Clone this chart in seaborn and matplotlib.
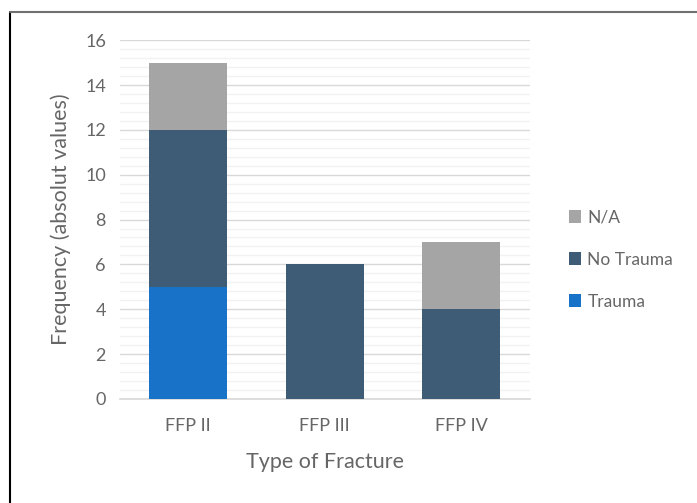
import matplotlib
matplotlib.use("Agg")
import matplotlib.pyplot as plt
import numpy as np
import seaborn as sns
from matplotlib.lines import Line2D
from matplotlib.patches import Patch
from matplotlib.ticker import MultipleLocator

categories = ["FFP II", "FFP III", "FFP IV"]
trauma = [5, 0, 0]
no_trauma = [7, 6, 4]
not_available = [3, 0, 3]

series_names = ["Trauma", "No Trauma", "N/A"]
colors = {"Trauma": "#1872C8", "No Trauma": "#3E5C76", "N/A": "#A5A5A5"}

sns.set_theme(style="white")
plt.rcParams["font.family"] = ["Lato", "DejaVu Sans"]
text_color = "#666666"

fig = plt.figure(figsize=(6.97, 5.03), dpi=100)
ax = fig.add_axes([0.172, 0.207, 0.588, 0.713])

bottom = np.zeros(len(categories))
for name, values in zip(series_names, [trauma, no_trauma, not_available]):
    sns.barplot(x=categories, y=values, bottom=bottom, color=colors[name],
                width=0.57, linewidth=0, saturation=1, ax=ax, zorder=3)
    bottom = bottom + np.array(values)

ax.set_ylim(0, 16)
ax.set_xlim(-0.5, 2.5)
ax.yaxis.set_major_locator(MultipleLocator(2))
ax.yaxis.set_minor_locator(MultipleLocator(0.4))
ax.grid(axis="y", which="major", color="#D9D9D9", linewidth=1.0, zorder=0)
ax.grid(axis="y", which="minor", color="#F2F2F2", linewidth=1.0, zorder=0)
ax.set_axisbelow(True)
for side in ["top", "right", "left"]:
    ax.spines[side].set_visible(False)
ax.spines["bottom"].set_color("#D9D9D9")
ax.tick_params(axis="both", which="both", length=0, colors=text_color)
ax.tick_params(axis="y", labelsize=13, pad=10)
ax.tick_params(axis="x", labelsize=13, pad=14)

ax.set_xlabel("Type of Fracture", fontsize=15.5, color=text_color, labelpad=13)
ax.set_ylabel("Frequency (absolut values)", fontsize=15.5, color=text_color, labelpad=10)

handles = [Patch(facecolor=colors[n], edgecolor="none") for n in ["N/A", "No Trauma", "Trauma"]]
leg = fig.legend(handles, ["N/A", "No Trauma", "Trauma"], loc="center left",
                 bbox_to_anchor=(0.794, 0.484), frameon=False, fontsize=12.5,
                 handlelength=0.7, handleheight=0.7, handletextpad=0.35,
                 labelspacing=1.5)
for t in leg.get_texts():
    t.set_color(text_color)

# outer frame lines
fig.add_artist(Line2D([10 / 697, 10 / 697], [0, 1 - 12 / 503], transform=fig.transFigure,
                      color="black", linewidth=1.5))
fig.add_artist(Line2D([10 / 697, 1], [1 - 12 / 503, 1 - 12 / 503], transform=fig.transFigure,
                      color="#707070", linewidth=1.5))

fig.savefig("out.png", dpi=100)
plt.close(fig)
